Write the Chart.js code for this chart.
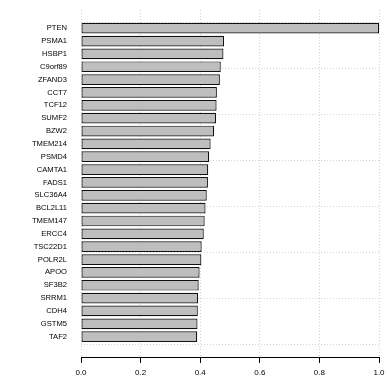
<!DOCTYPE html>
<html>
<head>
<meta charset="utf-8">
<script src="https://cdn.jsdelivr.net/npm/chart.js@4.4.0/dist/chart.umd.min.js"></script>
<style>
  html, body { margin: 0; padding: 0; background: #ffffff; }
  canvas { display: block; }
</style>
</head>
<body>
<canvas id="genes" width="390" height="390"></canvas>
<script>
var genes = ['PTEN', 'PSMA1', 'HSBP1', 'C9orf89', 'ZFAND3', 'CCT7', 'TCF12', 'SUMF2', 'BZW2',
    'TMEM214', 'PSMD4', 'CAMTA1', 'FADS1', 'SLC36A4', 'BCL2L11', 'TMEM147', 'ERCC4',
    'TSC22D1', 'POLR2L', 'APOO', 'SF3B2', 'SRRM1', 'CDH4', 'GSTM5', 'TAF2'];
var importance = [1.0, 0.480, 0.478, 0.469, 0.466, 0.456, 0.455, 0.453, 0.447,
    0.435, 0.430, 0.427, 0.426, 0.422, 0.418, 0.415, 0.412,
    0.405, 0.404, 0.398, 0.395, 0.393, 0.392, 0.391, 0.390];
var xTicks = [0, 0.2, 0.4, 0.6, 0.8, 1.0];
var xTickLabels = ['0.0', '0.2', '0.4', '0.6', '0.8', '1.0'];
var rowGrid = [0, 5, 10, 15, 20, 25, 30];

// barplot geometry: each bar is 1 unit wide with 0.2 space, axis padded 4%
var slotUnits = 1.2;
var topUnits = genes.length * slotUnits;
var gridLo = -0.04 * topUnits;
var gridHi = topUnits * 1.04;

var fontFamily = 'Liberation Sans, Arial, Helvetica, sans-serif';
var gridGrey = '#d3d3d3';

// put the category axis on the same units as the grid axis
var barplotLayout = {
    id: 'barplotLayout',
    afterLayout: function (chart) {
        var s = chart.scales.y;
        s._valueRange = (gridHi - gridLo) / slotUnits;
        s._startValue = -(gridHi / slotUnits - genes.length + 0.5 / slotUnits);
    }
};

var ctx = document.getElementById('genes').getContext('2d');
var geneChart = new Chart(ctx, {
    type: 'bar',
    data: {
        labels: genes,
        datasets: [{
            data: importance,
            xAxisID: 'x',
            yAxisID: 'y',
            backgroundColor: '#bebebe',
            borderColor: '#111111',
            borderWidth: 1.2,
            borderSkipped: false,
            categoryPercentage: 1,
            barPercentage: 1 / slotUnits
        }]
    },
    options: {
        indexAxis: 'y',
        responsive: false,
        animation: false,
        layout: { padding: { top: 10, right: 11, bottom: 0, left: 0 } },
        plugins: {
            legend: { display: false },
            tooltip: { enabled: false }
        },
        scales: {
            x: {
                type: 'linear',
                min: 0,
                max: 1,
                z: 1,
                afterBuildTicks: function (scale) {
                    scale.ticks = xTicks.map(function (v) { return { value: v }; });
                },
                ticks: {
                    font: { family: fontFamily, size: 8 },
                    color: '#000000',
                    padding: 5,
                    maxRotation: 0,
                    autoSkip: false,
                    callback: function (value, index) { return xTickLabels[index]; }
                },
                grid: { color: gridGrey, tickColor: '#000000', tickLength: 6, tickWidth: 1 },
                border: { display: true, color: '#000000', width: 1, dash: [1, 2] },
                afterFit: function (scale) {
                    scale.height = 33;
                    scale.paddingLeft = 0;
                    scale.paddingRight = 0;
                }
            },
            y: {
                type: 'category',
                ticks: { font: { family: fontFamily, size: 7.6 }, color: '#000000', padding: 14, autoSkip: false },
                grid: { display: false, drawTicks: false },
                border: { display: false },
                afterFit: function (scale) {
                    scale.width = 81;
                    scale.paddingTop = 0;
                    scale.paddingBottom = 0;
                }
            },
            yGrid: {
                type: 'linear',
                position: 'right',
                min: gridLo,
                max: gridHi,
                z: 1,
                afterBuildTicks: function (scale) {
                    scale.ticks = rowGrid.map(function (v) { return { value: v }; });
                },
                ticks: { display: false },
                grid: { color: gridGrey, drawTicks: false },
                border: { display: false, dash: [1, 2] },
                afterFit: function (scale) {
                    scale.width = 0;
                    scale.paddingTop = 0;
                    scale.paddingBottom = 0;
                }
            }
        }
    },
    plugins: [barplotLayout]
});
</script>
</body>
</html>
